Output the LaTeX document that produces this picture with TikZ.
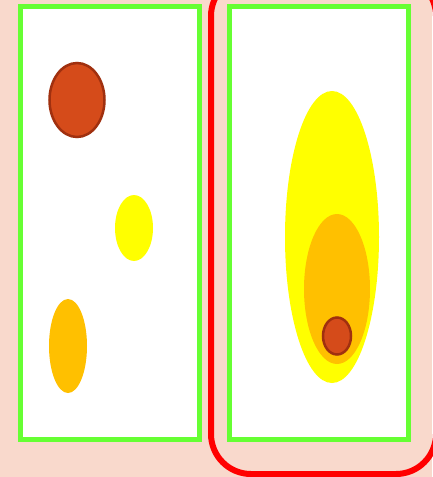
\documentclass[tikz,border=0pt]{standalone}
\definecolor{bgpink}{HTML}{F9D9CC}
\definecolor{pgreen}{HTML}{66FF33}
\definecolor{rorange}{HTML}{D54B1A}
\definecolor{rdark}{HTML}{A0300F}
\definecolor{amber}{HTML}{FFC000}
\definecolor{pyellow}{HTML}{FFFF00}
\tikzset{
  panel/.style={draw=pgreen, fill=white, line width=5pt},
  frame/.style={draw=red, line width=6pt, rounded corners=40pt},
  blobred/.style={fill=rorange, draw=rdark, line width=2.5pt},
  blobyellow/.style={fill=pyellow},
  blobamber/.style={fill=amber},
}
\begin{document}
\begin{tikzpicture}[x=1pt,y=-1pt]
\fill[bgpink] (0,0) rectangle (432,477);
\useasboundingbox (0,0) rectangle (432,477);
% panels
\node[panel, minimum width=179pt, minimum height=433pt, inner sep=0pt, anchor=center] (left) at (110,223) {};
\draw[frame] (211,-24) rectangle (436,474);
\node[panel, minimum width=179pt, minimum height=433pt, inner sep=0pt, anchor=center] (right) at (318.5,223) {};
% left blobs
\draw[blobred] (77,100) ellipse [x radius=27.5, y radius=37];
\fill[blobyellow] (134,228) ellipse [x radius=19, y radius=33];
\fill[blobamber] (68,346) ellipse [x radius=19, y radius=47];
% right blobs
\fill[blobyellow] (332,237) ellipse [x radius=47, y radius=146];
\fill[blobamber] (337,289) ellipse [x radius=33, y radius=75];
\draw[blobred] (337,336) ellipse [x radius=14, y radius=18.5];
\end{tikzpicture}
\end{document}
